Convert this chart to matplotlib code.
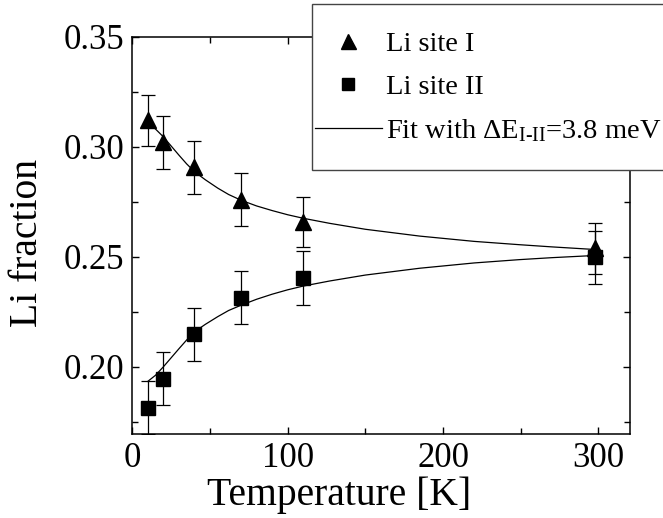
import matplotlib
matplotlib.use("Agg")
import matplotlib.pyplot as plt
from matplotlib.patches import Rectangle

# measured points
temperatures = [10, 20, 40, 70, 110, 298]
site1_fraction = [0.3120, 0.3021, 0.2906, 0.2760, 0.2659, 0.2539]
site1_error = [0.0117, 0.0120, 0.0120, 0.0120, 0.0114, 0.0115]
site2_fraction = [0.1814, 0.1947, 0.2147, 0.2314, 0.2402, 0.2498]
site2_error = [0.0120, 0.0120, 0.0120, 0.0120, 0.0123, 0.0120]

# fit curves
fit_temperatures = [10, 15, 20, 30, 35, 40, 47, 55, 62, 70, 80, 90, 100, 110, 127,
                    150, 185, 220, 249, 270, 298]
fit_site1 = [0.3110, 0.3080, 0.3045, 0.2962, 0.2922, 0.2887, 0.2850, 0.2812, 0.2783,
             0.2757, 0.2731, 0.2710, 0.2691, 0.2675, 0.2652, 0.2625, 0.2594, 0.2570,
             0.2555, 0.2545, 0.2533]
fit_site2 = [0.1934, 0.1962, 0.2000, 0.2082, 0.2122, 0.2159, 0.2193, 0.2228, 0.2256,
             0.2280, 0.2307, 0.2330, 0.2350, 0.2367, 0.2390, 0.2417, 0.2448, 0.2472,
             0.2487, 0.2496, 0.2506]

x_ticks = [0, 100, 200, 300]
y_ticks = [0.20, 0.25, 0.30, 0.35]
y_tick_labels = ["0.20", "0.25", "0.30", "0.35"]

plt.rcParams["font.family"] = ["Liberation Serif", "DejaVu Serif"]
plt.rcParams["mathtext.fontset"] = "custom"
plt.rcParams["mathtext.rm"] = "Liberation Serif"
plt.rcParams["mathtext.it"] = "Liberation Serif:italic"


def main():
    fig = plt.figure(figsize=(6.63, 5.18), dpi=100)
    ax = fig.add_axes([0.1995, 0.1622, 0.750, 0.767])

    fit_line, = ax.plot(fit_temperatures, fit_site1, color="black", lw=0.9, zorder=2)
    ax.plot(fit_temperatures, fit_site2, color="black", lw=0.9, zorder=2)

    ax.errorbar(temperatures, site1_fraction, yerr=site1_error, fmt="none",
                ecolor="black", elinewidth=0.9, capsize=5, capthick=0.9, zorder=3)
    ax.errorbar(temperatures, site2_fraction, yerr=site2_error, fmt="none",
                ecolor="black", elinewidth=0.9, capsize=5, capthick=0.9, zorder=3)
    tri, = ax.plot(temperatures, site1_fraction, ls="none", marker="^", ms=12,
                   color="black", zorder=4)
    sq, = ax.plot(temperatures, site2_fraction, ls="none", marker="s", ms=10,
                  color="black", zorder=4)

    ax.set_xlim(0, 320)
    ax.set_ylim(0.1695, 0.35)
    ax.set_xticks(x_ticks)
    ax.set_xticks([50, 150, 250], minor=True)
    ax.set_yticks(y_ticks)
    ax.set_yticklabels(y_tick_labels)
    ax.set_yticks([0.175, 0.225, 0.275, 0.325], minor=True)

    ax.tick_params(which="both", direction="in", top=True, right=True,
                   width=1, labelsize=25)
    ax.tick_params(which="major", length=5, pad=6)
    ax.tick_params(which="minor", length=4)
    for s in ax.spines.values():
        s.set_linewidth(1.1)

    ax.set_xlabel("Temperature [K]", fontsize=28.5)
    ax.xaxis.set_label_coords(0.4157, -0.108)
    ax.set_ylabel("Li fraction", fontsize=28.5)
    ax.yaxis.set_label_coords(-0.1735, 0.482)

    # legend box sticks out past the right edge of the figure
    fig.patches.append(Rectangle((312 / 663, 1 - 170 / 518), 0.6, 166 / 518,
                                 transform=fig.transFigure, facecolor="white",
                                 edgecolor="#444444", lw=1.0, zorder=5))
    leg = fig.legend([tri, sq, fit_line],
                     ["Li site I", "Li site II",
                      r"Fit with ΔE$_{\mathrm{I\text{-}II}}$=3.8 meV"],
                     loc="upper left", bbox_to_anchor=(315 / 663, 1 - 31 / 518),
                     frameon=False, borderpad=0, borderaxespad=0, fontsize=20.5,
                     handlelength=2.35, handletextpad=0.15, labelspacing=0.6,
                     numpoints=1, markerscale=0.9)
    leg.set_zorder(6)

    fig.savefig("out.png", dpi=100)


if __name__ == "__main__":
    main()
